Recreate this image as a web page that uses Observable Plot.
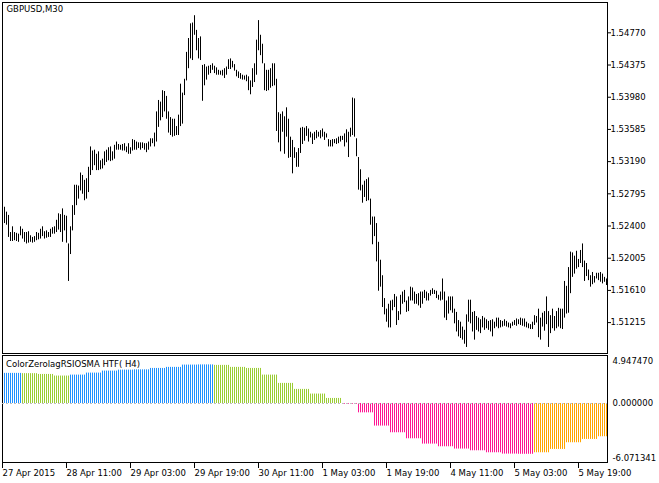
<!DOCTYPE html>
<html><head><meta charset="utf-8">
<script src="https://cdn.jsdelivr.net/npm/d3@7"></script>
<script src="https://cdn.jsdelivr.net/npm/@observablehq/plot@0.6"></script>
<style>
body{margin:0;background:#fff;width:659px;height:483px;overflow:hidden}
#chart svg{display:block}
</style></head><body><div id="chart"></div>
<script>
// ---- GBPUSD M30 bars (high / low), left to right ----
const highs = [
1.5263,1.5257,1.5253,1.5232,1.5239,1.5232,1.5231,1.5230,1.5239,1.5236,
1.5232,1.5232,1.5233,1.5228,1.5226,1.5227,1.5232,1.5231,1.5236,1.5239,
1.5233,1.5234,1.5232,1.5236,1.5238,1.5239,1.5247,1.5255,1.5254,1.5261,
1.5253,1.5252,1.5218,1.5239,1.5265,1.5290,1.5290,1.5289,1.5305,1.5302,
1.5296,1.5298,1.5312,1.5337,1.5332,1.5333,1.5328,1.5331,1.5320,1.5322,
1.5331,1.5333,1.5336,1.5337,1.5331,1.5339,1.5343,1.5340,1.5339,1.5340,
1.5341,1.5337,1.5341,1.5336,1.5346,1.5345,1.5343,1.5342,1.5342,1.5342,
1.5341,1.5341,1.5343,1.5347,1.5347,1.5354,1.5380,1.5394,
1.5392,1.5406,1.5405,1.5399,1.5380,1.5373,1.5371,1.5371,1.5362,1.5376,1.5414,1.5403,
1.5420,1.5453,1.5470,1.5488,1.5489,1.5498,1.5480,1.5470,1.5472,1.5437,
1.5438,1.5435,1.5436,1.5437,1.5439,1.5436,1.5434,1.5431,1.5430,1.5431,
1.5433,1.5435,1.5444,1.5445,1.5442,1.5438,1.5431,1.5429,1.5427,1.5425,
1.5424,1.5425,1.5423,1.5418,1.5433,1.5439,1.5468,1.5492,1.5474,1.5463,
1.5439,1.5431,1.5431,1.5433,1.5439,1.5439,1.5420,1.5379,1.5377,1.5380,
1.5374,1.5385,1.5371,1.5349,1.5345,1.5336,1.5330,1.5335,1.5360,1.5361,
1.5360,1.5362,1.5359,1.5355,1.5353,1.5355,1.5357,1.5355,1.5357,1.5359,
1.5355,1.5353,1.5346,1.5345,1.5346,1.5346,1.5347,1.5349,1.5350,1.5350,
1.5353,1.5358,1.5355,1.5360,1.5397,1.5396,1.5347,1.5324,1.5309,1.5290,
1.5295,1.5297,1.5299,1.5273,1.5251,1.5251,1.5243,1.5220,1.5198,1.5179,
1.5151,1.5138,1.5144,1.5148,1.5149,1.5156,1.5153,1.5135,1.5155,1.5159,
1.5161,1.5148,1.5153,1.5165,1.5164,1.5159,1.5156,1.5157,1.5159,1.5159,
1.5161,1.5159,1.5157,1.5161,1.5163,1.5161,1.5160,1.5155,1.5159,1.5175,
1.5159,1.5148,1.5153,1.5153,1.5153,1.5138,1.5134,1.5124,1.5122,1.5116,
1.5112,1.5131,1.5149,1.5149,1.5134,1.5135,1.5129,1.5127,1.5125,1.5129,
1.5127,1.5125,1.5123,1.5124,1.5125,1.5122,1.5127,1.5127,1.5124,1.5123,
1.5125,1.5123,1.5121,1.5120,1.5122,1.5124,1.5126,1.5125,1.5127,1.5126,
1.5126,1.5122,1.5120,1.5119,1.5122,1.5130,1.5129,1.5138,1.5127,1.5133,
1.5135,1.5153,1.5135,1.5130,1.5138,1.5129,1.5135,1.5139,1.5138,1.5138,
1.5172,1.5166,1.5189,1.5208,1.5207,1.5203,1.5209,1.5199,1.5210,1.5218,
1.5197,1.5194,1.5186,1.5179,1.5183,1.5178,1.5182,1.5182,1.5183,1.5181,1.5177,1.5175
];
const lows = [
1.5243,1.5241,1.5226,1.5221,1.5221,1.5222,1.5221,1.5220,1.5228,1.5224,
1.5220,1.5218,1.5219,1.5220,1.5219,1.5220,1.5222,1.5223,1.5224,1.5227,
1.5224,1.5225,1.5226,1.5226,1.5230,1.5230,1.5232,1.5235,1.5232,1.5220,
1.5234,1.5219,1.5172,1.5205,1.5234,1.5253,1.5265,1.5273,1.5283,1.5279,
1.5271,1.5273,1.5281,1.5302,1.5308,1.5314,1.5308,1.5308,1.5309,1.5310,
1.5314,1.5318,1.5320,1.5319,1.5320,1.5322,1.5333,1.5333,1.5333,1.5332,
1.5332,1.5330,1.5328,1.5328,1.5332,1.5333,1.5333,1.5335,1.5333,1.5335,
1.5333,1.5330,1.5333,1.5337,1.5341,1.5337,1.5343,1.5361,
1.5369,1.5373,1.5380,1.5371,1.5354,1.5351,1.5349,1.5350,1.5351,1.5351,1.5362,1.5365,
1.5400,1.5418,1.5433,1.5445,1.5443,1.5474,1.5455,1.5445,1.5443,1.5393,
1.5412,1.5419,1.5425,1.5427,1.5431,1.5427,1.5425,1.5425,1.5425,1.5424,
1.5421,1.5425,1.5432,1.5432,1.5434,1.5430,1.5423,1.5421,1.5420,1.5419,
1.5419,1.5417,1.5406,1.5401,1.5410,1.5416,1.5425,1.5455,1.5449,1.5439,
1.5406,1.5405,1.5406,1.5409,1.5411,1.5412,1.5356,1.5342,1.5331,1.5355,
1.5328,1.5349,1.5323,1.5324,1.5304,1.5323,1.5312,1.5312,1.5329,1.5340,
1.5344,1.5350,1.5343,1.5348,1.5340,1.5345,1.5347,1.5349,1.5347,1.5349,
1.5345,1.5348,1.5337,1.5337,1.5337,1.5341,1.5340,1.5341,1.5343,1.5345,
1.5337,1.5342,1.5324,1.5349,1.5351,1.5349,1.5325,1.5284,1.5283,1.5268,
1.5275,1.5270,1.5271,1.5241,1.5217,1.5227,1.5196,1.5160,1.5165,1.5140,
1.5131,1.5122,1.5115,1.5115,1.5136,1.5140,1.5118,1.5124,1.5131,1.5144,
1.5146,1.5134,1.5135,1.5148,1.5148,1.5144,1.5144,1.5142,1.5139,1.5144,
1.5151,1.5148,1.5148,1.5154,1.5156,1.5156,1.5151,1.5149,1.5148,1.5149,
1.5127,1.5124,1.5132,1.5136,1.5133,1.5120,1.5110,1.5104,1.5102,1.5100,
1.5095,1.5091,1.5122,1.5120,1.5110,1.5100,1.5112,1.5110,1.5108,1.5115,
1.5112,1.5114,1.5112,1.5110,1.5104,1.5114,1.5116,1.5114,1.5115,1.5116,
1.5117,1.5116,1.5115,1.5114,1.5117,1.5118,1.5117,1.5119,1.5118,1.5117,
1.5116,1.5115,1.5114,1.5113,1.5113,1.5118,1.5121,1.5103,1.5100,1.5116,
1.5111,1.5119,1.5091,1.5108,1.5114,1.5111,1.5114,1.5116,1.5114,1.5113,
1.5127,1.5132,1.5133,1.5157,1.5177,1.5181,1.5187,1.5189,1.5194,1.5189,
1.5172,1.5178,1.5173,1.5165,1.5168,1.5170,1.5175,1.5173,1.5171,1.5169,1.5171,1.5167
];
// price-scale labels
const priceTicks = [1.54770,1.54375,1.53980,1.53585,1.53190,1.52795,1.52400,1.52005,1.51610,1.51215];
const priceMin = 1.50836, priceMax = 1.55142;
// time labels (one every 32 M30 bars)
const timeLabels = ["27 Apr 2015","28 Apr 11:00","29 Apr 03:00","29 Apr 19:00","30 Apr 11:00",
  "1 May 03:00","1 May 19:00","4 May 11:00","5 May 03:00","5 May 19:00"];
// ColorZerolagRSIOSMA HTF(H4): one value per H4 candle (8 M30 bars each)
const oscValues = [3.16,3.16,3.13,3.05,2.88,2.98,3.19,3.40,3.50,3.53,3.68,3.79,4.03,4.05,
  4.00,3.79,3.68,2.98,2.11,1.48,0.99,0.53,-0.08,-0.98,-2.37,-3.07,-3.70,-4.26,-4.54,-4.78,
  -4.96,-5.17,-5.31,-5.33,-5.17,-4.82,-4.12,-3.77,-3.49];
const oscStates = ["up","up","down","down","down","up","up","up","up","up","up","up","up","up",
  "down","down","down","down","down","down","down","down","dn-","dn-","dn-","dn-","dn-","dn-","dn-","dn-",
  "dn-","dn-","dn-","dn-","up-","up-","up-","up-","up-"];
const stateNames = ["up","down","dn-","up-"];
const stateColors = ["#1E90FF","#9ACD32","#FF1493","#FFA500"];
const oscMin = -6.071341, oscMax = 4.947470;

const font = {fontFamily: "'DejaVu Sans', sans-serif", fontSize: "8.5px", color: "black", background: "white"};
const bars = highs.map((h, i) => ({i, high: h, low: lows[i]}));
const n = bars.length;
const perStep = 8;
const hist = bars.map(({i}) => {
  const k = Math.floor((i + perStep - 1) / perStep);
  return {i, v: oscValues[k], s: oscStates[k]};
});
const tickIdx = timeLabels.map((_, j) => -1 + 32 * j);
const labelAt = new Map(tickIdx.map((t, j) => [t, timeLabels[j]]));

const chartTop = Plot.plot({
  width: 659, height: 354,
  marginLeft: 2, marginRight: 52, marginTop: 2, marginBottom: 1,
  x: {domain: [-1, n - 0.5], axis: null},
  y: {domain: [priceMin, priceMax]},
  style: font,
  marks: [
    Plot.frame({stroke: "black"}),
    Plot.ruleX(bars, {x: "i", y1: "low", y2: "high", stroke: "black", strokeWidth: 1}),
    Plot.axisY({anchor: "right", ticks: priceTicks, tickFormat: d => d.toFixed(5), tickSize: 3, tickPadding: 0, label: null}),
    Plot.text(["GBPUSD,M30"], {frameAnchor: "top-left", dx: 4, dy: 3.5, lineAnchor: "top", textAnchor: "start", fill: "black"})
  ]
});

const chartBottom = Plot.plot({
  width: 659, height: 129,
  marginLeft: 2, marginRight: 52, marginTop: 1, marginBottom: 21,
  x: {domain: [-1, n - 0.5]},
  y: {domain: [oscMin, oscMax], range: [106.86, 1.85], axis: null},
  color: {domain: stateNames, range: stateColors},
  style: font,
  marks: [
    Plot.frame({stroke: "black"}),
    Plot.ruleX(hist, {x: "i", y1: 0, y2: "v", stroke: "s", strokeWidth: 1}),
    Plot.ruleY([0], {stroke: "#c0c0c0", strokeDasharray: "2,2"}),
    Plot.text([oscMax], {y: d => d, text: d => d.toFixed(6), frameAnchor: "right", textAnchor: "start", dx: 5, dy: 4.8, fill: "black"}),
    Plot.text([0], {y: d => d, text: d => d.toFixed(6), frameAnchor: "right", textAnchor: "start", dx: 5, dy: 0, fill: "black"}),
    Plot.text([oscMin], {y: d => d, text: d => d.toFixed(6), frameAnchor: "right", textAnchor: "start", dx: 5, dy: -3.2, fill: "black"}),
    Plot.axisX({anchor: "bottom", ticks: tickIdx, tickFormat: d => labelAt.get(d), tickSize: 6, tickPadding: 1, textAnchor: "start", label: null}),
    Plot.text(["ColorZerolagRSIOSMA HTF( H4)"], {frameAnchor: "top-left", dx: 3.5, dy: 5.2, lineAnchor: "top", textAnchor: "start", fill: "black"})
  ]
});

const el = document.getElementById("chart");
el.append(chartTop, chartBottom);
</script>
</body></html>
